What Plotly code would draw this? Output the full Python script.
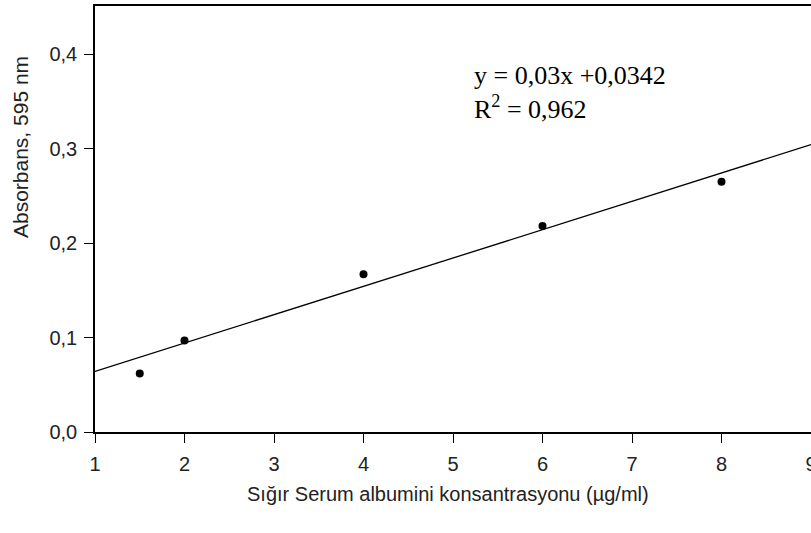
import plotly.graph_objects as go

# Standard curve: BSA concentration vs absorbance at 595 nm
konsantrasyon = [1.5, 2, 4, 6, 8]
absorbans = [0.062, 0.097, 0.167, 0.218, 0.265]

# Linear fit reported on the chart
egim = 0.03
kesisim = 0.0342
r2 = 0.962
fit_x = [1, 9]
fit_y = [egim * x + kesisim for x in fit_x]

x_ticks = [1, 2, 3, 4, 5, 6, 7, 8, 9]
y_ticks = [0.0, 0.1, 0.2, 0.3, 0.4]

sans = "Liberation Sans, Arial"
tick_font = dict(family=sans, size=20, color="#222")

fig = go.Figure()
fig.add_trace(go.Scatter(x=fit_x, y=fit_y, mode="lines",
                         line=dict(color="black", width=1.3), showlegend=False))
fig.add_trace(go.Scatter(x=konsantrasyon, y=absorbans, mode="markers",
                         marker=dict(color="black", size=8), showlegend=False))

fig.add_annotation(
    x=0.5265, y=0.796, xref="paper", yref="paper", xanchor="left", yanchor="middle",
    text="y = 0,03x +0,0342<br>R<sup>2</sup> = 0,962", align="left", showarrow=False,
    font=dict(family="Liberation Serif, Times New Roman", size=26, color="black"),
)
# Axis titles
fig.add_annotation(
    x=-0.1047, y=0.669, xref="paper", yref="paper", xanchor="center", yanchor="middle",
    text="Absorbans, 595 nm", showarrow=False, textangle=-90,
    font=dict(family=sans, size=21, color="#222"),
)
fig.add_annotation(
    x=0.493, y=-0.1455, xref="paper", yref="paper", xanchor="center", yanchor="middle",
    text="Sığır Serum albumini konsantrasyonu (µg/ml)", showarrow=False,
    font=dict(family=sans, size=20, color="#222"),
)

fig.update_layout(
    width=811, height=533,
    margin=dict(l=95, r=0, t=6, b=101),
    paper_bgcolor="white", plot_bgcolor="white",
    separators=",.",
    xaxis=dict(range=[1, 9], tickvals=x_ticks, ticks="outside", ticklen=9, tickwidth=1.3,
               tickcolor="black", showline=True, linecolor="black", linewidth=1.5,
               mirror=True, showgrid=False, zeroline=False, tickfont=tick_font,
               ticklabelstandoff=4, ticklabeloverflow="allow", automargin=False),
    yaxis=dict(range=[0, 0.451], tickvals=y_ticks, tickformat=".1f", ticks="outside",
               ticklen=9, tickwidth=1.3, tickcolor="black", showline=True, linecolor="black",
               linewidth=1.5, showgrid=False, zeroline=False, tickfont=tick_font,
               ticklabelstandoff=3, automargin=False),
)

fig.write_html("out.html")
